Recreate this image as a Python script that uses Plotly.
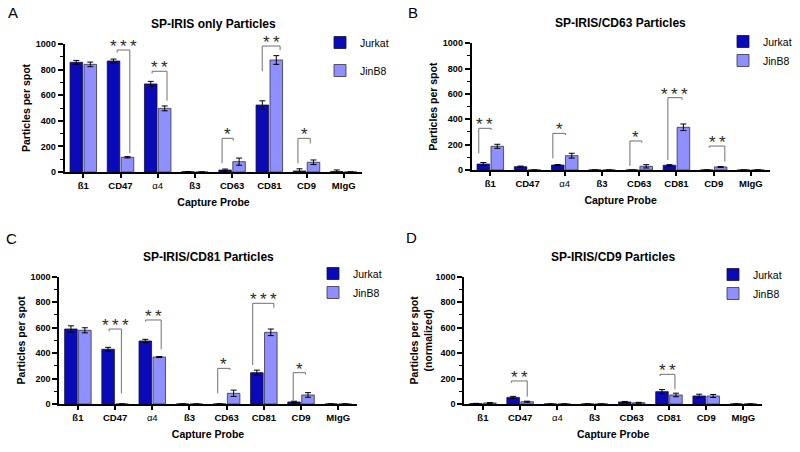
import plotly.graph_objects as go

# ---------------- data ----------------
categories = ["ß1", "CD47", "α4", "ß3", "CD63", "CD81", "CD9", "MIgG"]
series_names = ["Jurkat", "JinB8"]

A_jurkat = [857, 867, 688, 2, 15, 523, 8, 4]
A_jurkat_err = [15, 15, 20, 2, 8, 33, 17, 12]
A_jinb8 = [841, 115, 497, 0, 81, 875, 76, 0]
A_jinb8_err = [18, 5, 19, 0, 28, 34, 18, 0]

B_jurkat = [47, 26, 39, 0, 0, 37, 0, 0]
B_jurkat_err = [12, 5, 4, 0, 0, 5, 0, 0]
B_jinb8 = [187, 0, 113, 0, 29, 337, 24, 0]
B_jinb8_err = [16, 0, 19, 0, 13, 26, 3, 0]

C_jurkat = [589, 430, 495, 0, 0, 246, 16, 0]
C_jurkat_err = [25, 15, 13, 0, 0, 20, 6, 0]
C_jinb8 = [579, 0, 369, 0, 84, 563, 71, 0]
C_jinb8_err = [20, 0, 4, 0, 25, 26, 18, 0]

D_jurkat = [3, 52, 0, 0, 16, 97, 63, 0]
D_jurkat_err = [2, 8, 0, 0, 4, 16, 14, 0]
D_jinb8 = [8, 18, 0, 0, 10, 71, 63, 0]
D_jinb8_err = [3, 4, 0, 0, 3, 14, 12, 0]

# significance brackets: (category, left offset, right offset, top, left leg end, right leg end, stars)
A_sig = [("CD47", -0.09, 0.25, 953, 935, 148, 3),
         ("α4", -0.15, 0.25, 787, 770, 557, 2),
         ("CD63", -0.27, 0.03, 263, 68, 245, 1),
         ("CD81", -0.19, 0.29, 984, 787, 953, 2),
         ("CD9", -0.23, 0.10, 263, 68, 224, 1)]
B_sig = [("ß1", -0.31, 0.02, 329, 131, 316, 2),
         ("α4", -0.32, 0.02, 289, 92, 276, 1),
         ("CD63", -0.25, 0.07, 229, 32, 216, 1),
         ("CD81", -0.23, 0.15, 571, 79, 553, 3),
         ("CD9", -0.12, 0.30, 189, 175, 66, 2)]
C_sig = [("CD47", -0.16, 0.17, 589, 570, 84, 3),
         ("α4", -0.18, 0.24, 660, 647, 430, 2),
         ("CD63", -0.24, 0.09, 280, 84, 267, 1),
         ("CD81", -0.30, 0.27, 791, 306, 756, 3),
         ("CD9", -0.21, 0.12, 246, 31, 233, 1)]
D_sig = [("CD47", -0.23, 0.19, 181, 168, 58, 2),
         ("CD81", -0.24, 0.16, 233, 220, 115, 2)]

panel_titles = ["SP-IRIS only Particles", "SP-IRIS/CD63 Particles",
                "SP-IRIS/CD81 Particles", "SP-IRIS/CD9 Particles"]
panel_letters = ["A", "B", "C", "D"]
y_titles = ["Particles per spot", "Particles per spot", "Particles per spot",
            "Particles per spot<br>(normalized)"]
x_title = "Capture Probe"
y_ticks = [0, 200, 400, 600, 800, 1000]

# ---------------- styling ----------------
FONT = "Arial, Liberation Sans, Helvetica, sans-serif"
C_JUR = "#0a0ab8"
C_JIN = "#8f8fff"
W, H = 800, 452

def px_x(p):
    return p / W

def px_y(p):
    return 1 - p / H

# plot-area boxes in pixels: (left, right, top(1000), bottom(0))
boxes = [(64.7, 362.3, 44.0, 172.0),
         (471.7, 769.5, 43.3, 170.0),
         (59.3, 356.8, 276.7, 404.0),
         (464.3, 762.0, 276.7, 404.0)]

data_sets = [(A_jurkat, A_jurkat_err, A_jinb8, A_jinb8_err, A_sig),
             (B_jurkat, B_jurkat_err, B_jinb8, B_jinb8_err, B_sig),
             (C_jurkat, C_jurkat_err, C_jinb8, C_jinb8_err, C_sig),
             (D_jurkat, D_jurkat_err, D_jinb8, D_jinb8_err, D_sig)]

# legend placement (paper px): left, top, group gap
legend_pos = [(320, 28, 9), (723, 27, 0), (313, 259, 0), (713, 260, 0)]
letter_pos = [(6, 13), (406, 13), (4, 238), (404, 237)]
ytitle_standoff = [3, 3, 3, 1]

xpos = list(range(len(categories)))
ticktext = [c if c == "α4" else "<b>%s</b>" % c for c in categories]
STAR_SEP = "\u2009"

fig = go.Figure()
shapes = []
annotations = []
layout = {}

for k in range(4):
    jur, jur_e, jin, jin_e, sig = data_sets[k]
    sfx = "" if k == 0 else str(k + 1)
    xa, ya = "x" + sfx, "y" + sfx
    lg = "legend" + sfx
    fig.add_trace(go.Bar(x=xpos, y=jur, name=series_names[0], xaxis=xa, yaxis=ya,
                         legend=lg, legendgroup="j%d" % k, offsetgroup="1",
                         marker=dict(color=C_JUR, line=dict(color="#111133", width=0.8)),
                         error_y=dict(type="data", array=jur_e, color="black",
                                      thickness=1, width=3)))
    fig.add_trace(go.Bar(x=xpos, y=jin, name=series_names[1], xaxis=xa, yaxis=ya,
                         legend=lg, legendgroup="b%d" % k, offsetgroup="2",
                         marker=dict(color=C_JIN, line=dict(color="#333344", width=0.8)),
                         error_y=dict(type="data", array=jin_e, color="black",
                                      thickness=1, width=3)))
    l, r, t, b = boxes[k]
    layout["xaxis" + sfx] = dict(
        domain=[px_x(l), px_x(r)], anchor=ya, range=[-0.5, len(categories) - 0.5],
        tickvals=xpos, ticktext=ticktext, ticks="outside", ticklen=4, tickwidth=1.5,
        tickcolor="black", showline=True, linewidth=2, linecolor="black",
        showgrid=False, zeroline=False, automargin=False,
        tickfont=dict(family=FONT, size=9.5, color="black"),
        title=dict(text="<b>%s</b>" % x_title, standoff=8,
                   font=dict(family=FONT, size=10.5, color="black")))
    layout["yaxis" + sfx] = dict(
        domain=[px_y(b), px_y(t)], anchor=xa, range=[0, 1000],
        tickvals=y_ticks, ticks="outside", ticklen=5, tickwidth=1.5, tickcolor="black",
        minor=dict(ticks="outside", dtick=100, ticklen=3, tickwidth=1.2, tickcolor="black"),
        showline=True, linewidth=2, linecolor="black", showgrid=False, zeroline=False,
        automargin=False,
        tickfont=dict(family=FONT, size=9, color="black", weight="bold"),
        title=dict(text="<b>%s</b>" % y_titles[k], standoff=ytitle_standoff[k],
                   font=dict(family=FONT, size=10.5, color="black")))
    lx, ly, gap = legend_pos[k]
    layout[lg] = dict(x=px_x(lx), y=px_y(ly), xanchor="left", yanchor="top",
                      bgcolor="rgba(0,0,0,0)", tracegroupgap=gap,
                      font=dict(family=FONT, size=10.5, color="black"))
    # significance brackets
    for cat, dl, dr, top, lb, rb, nstar in sig:
        c = categories.index(cat)
        x0, x1 = c + dl, c + dr
        shapes.append(dict(type="path", xref=xa, yref=ya,
                           path="M %f,%f L %f,%f L %f,%f L %f,%f" % (x0, lb, x0, top, x1, top, x1, rb),
                           line=dict(color="#707070", width=1)))
        annotations.append(dict(x=(x0 + x1) / 2, y=top, xref=xa, yref=ya,
                                text=STAR_SEP.join(["*"] * nstar),
                                showarrow=False, yanchor="bottom", yshift=-8,
                                font=dict(family=FONT, size=17, color="#2a2a2a")))
    # title and panel letter
    annotations.append(dict(x=px_x((l + r) / 2), y=px_y(t - 20),
                            xref="paper", yref="paper",
                            text="<b>%s</b>" % panel_titles[k], showarrow=False,
                            xanchor="center", yanchor="middle",
                            font=dict(family=FONT, size=12, color="black")))
    lpx, lpy = letter_pos[k]
    annotations.append(dict(x=px_x(lpx), y=px_y(lpy),
                            xref="paper", yref="paper", text=panel_letters[k],
                            showarrow=False, xanchor="left", yanchor="middle",
                            font=dict(family=FONT, size=15, color="black")))

fig.update_layout(**layout)
fig.update_layout(width=W, height=H,
                  margin=dict(l=0, r=0, t=0, b=0, autoexpand=False),
                  paper_bgcolor="white", plot_bgcolor="white",
                  barmode="group", bargap=0.25, bargroupgap=0.1,
                  shapes=shapes, annotations=annotations, showlegend=True,
                  font=dict(family=FONT, color="black"))

fig.write_html("out.html", config={"displayModeBar": False},
               post_script="document.body.style.margin='0';document.body.style.overflow='hidden';")
